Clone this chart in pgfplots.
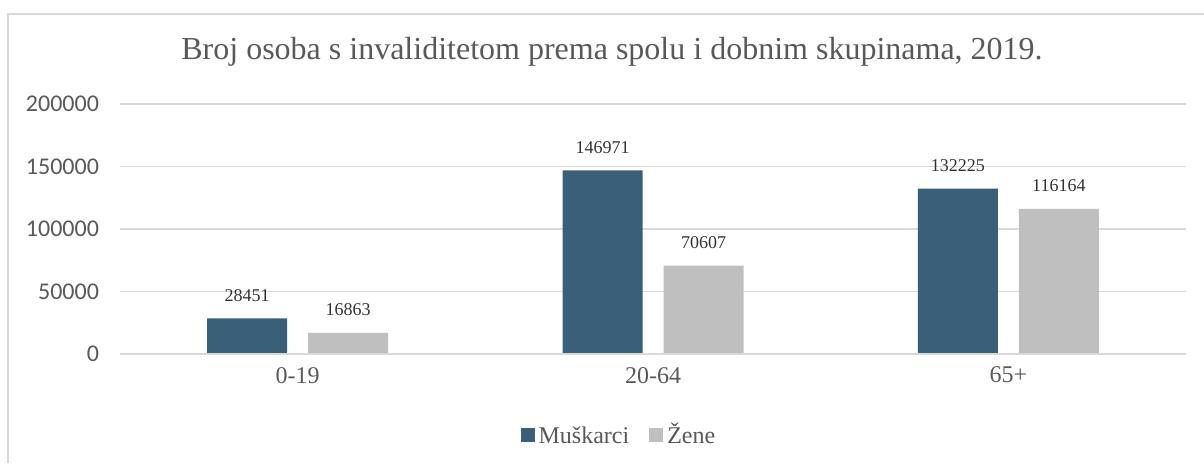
\documentclass[border=0pt]{standalone}
\usepackage{pgfplots}
\pgfplotsset{compat=1.18}
\usepackage{fontspec}
\setmainfont{Liberation Serif}
\newfontfamily\carlito{Carlito}
\definecolor{muski}{HTML}{3A5F78}
\definecolor{zene}{HTML}{BFBFBF}
\definecolor{gridc}{HTML}{D9D9D9}
\definecolor{txt}{HTML}{595959}
\begin{document}
\begin{tikzpicture}
  \useasboundingbox (0,0) rectangle (602pt,231.5pt);
  % chart frame (left and top only visible)
  \draw[gridc, line width=1pt] (4pt,0) -- (4pt,224.5pt) -- (602pt,224.5pt);
  \begin{axis}[
    at={(60pt,54.5pt)}, anchor=south west,
    scale only axis,
    width=533pt, height=125pt,
    /pgf/number format/fixed,
    /pgf/number format/precision=0,
    /pgf/number format/assume math mode=true,
    /pgf/number format/1000 sep={},
    ybar=10.5pt, bar width=40pt,
    xmin=-0.5, xmax=2.5,
    ymin=0, ymax=200000,
    xtick=data,
    xticklabels={0-19,20-64,65+},
    ytick={0,50000,100000,150000,200000},
    scaled y ticks=false,
    major tick length=0pt,
    axis x line*=bottom,
    axis y line*=left,
    axis line style={draw=none},
    ymajorgrids=true,
    grid style={gridc, line width=0.8pt},
    yticklabel style={font=\carlito\fontsize{12}{14}\selectfont, text=txt, xshift=-7pt},
    xticklabel style={font=\fontsize{12}{14}\selectfont, text=txt, yshift=-3pt},
    nodes near coords,
    nodes near coords style={font=\fontsize{9}{10}\selectfont, text=black!80, anchor=south, yshift=5pt},
    legend style={at={(0.469,-0.324)}, anchor=center, draw=none, legend columns=2,
      font=\fontsize{12}{14}\selectfont, text=txt,
      /tikz/every even column/.append style={column sep=8pt}},
    legend image code/.code={\fill[#1] (0pt,-3.5pt) rectangle (7pt,3.5pt);},
  ]
    \addplot[fill=muski, draw=none] coordinates {(0,28451) (1,146971) (2,132225)};
    \addplot[fill=zene, draw=none] coordinates {(0,16863) (1,70607) (2,116164)};
    \legend{\strut Muškarci, \strut Žene}
  \end{axis}
  \draw[gridc, line width=0.8pt] (60pt,54.5pt) -- (593pt,54.5pt);
  \node[text=txt, font=\fontsize{16}{18}\selectfont] at (306pt,205.5pt)
    {Broj osoba s invaliditetom prema spolu i dobnim skupinama, 2019.};
\end{tikzpicture}
\end{document}
